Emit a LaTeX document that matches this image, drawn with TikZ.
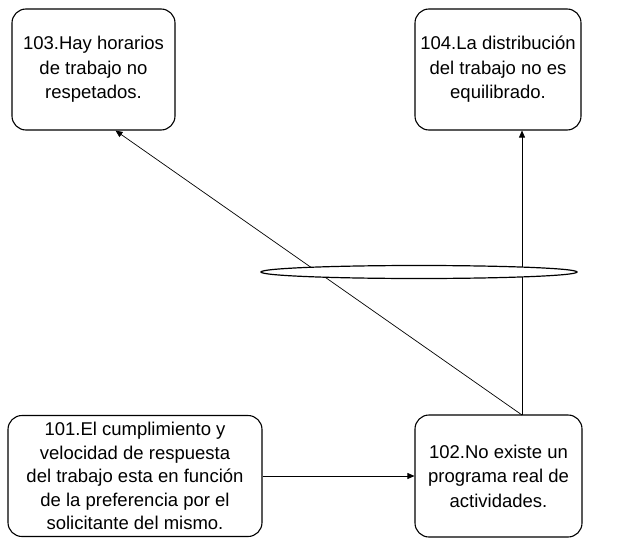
\documentclass[tikz,border=0pt]{standalone}
\usepackage{fontspec}
\setmainfont{Liberation Sans}
\usetikzlibrary{arrows.meta,shapes.geometric}
\begin{document}
\begin{tikzpicture}[x=1pt,y=-1pt,
  causebox/.style={draw,line width=1.1pt,rounded corners=14pt,align=center,
    inner sep=0pt,font=\fontsize{18.5}{24.5}\selectfont},
  link/.style={line width=0.7pt,-{Triangle[length=7pt,width=6pt]}}]
\useasboundingbox (0,0) rectangle (629,543);
% cause boxes
\node[causebox,minimum width=163pt,minimum height=121pt] (c103) at (93.5,69.5)
  {\raisebox{-2pt}{\begin{tabular}{@{}c@{}}103.Hay horarios\\de trabajo no\\respetados.\end{tabular}}};
\node[causebox,minimum width=166pt,minimum height=121pt] (c104) at (498,69.5)
  {\raisebox{-2pt}{\begin{tabular}{@{}c@{}}104.La distribución\\del trabajo no es\\equilibrado.\end{tabular}}};
\node[causebox,minimum width=254pt,minimum height=121pt,
  font=\fontsize{18.5}{23.5}\selectfont] (c101) at (135,476)
  {101.El cumplimiento y\\velocidad de respuesta\\del trabajo esta en función\\de la preferencia por el\\solicitante del mismo.};
\node[causebox,minimum width=167pt,minimum height=122pt] (c102) at (498.5,476)
  {102.No existe un\\programa real de\\actividades.};
% connectors
\coordinate (top102) at (522,415);
\draw[link] (c101.east) -- (c102.west);
\draw[link] (top102) -- (top102 |- c104.south);
\draw[link] (top102) -- ([xshift=22pt]c103.south);
% joining ellipse
\node[draw,fill=white,line width=1.2pt,ellipse,minimum width=316pt,minimum height=13pt,
  inner sep=0pt] (joint) at (419,272) {};
\end{tikzpicture}
\end{document}
